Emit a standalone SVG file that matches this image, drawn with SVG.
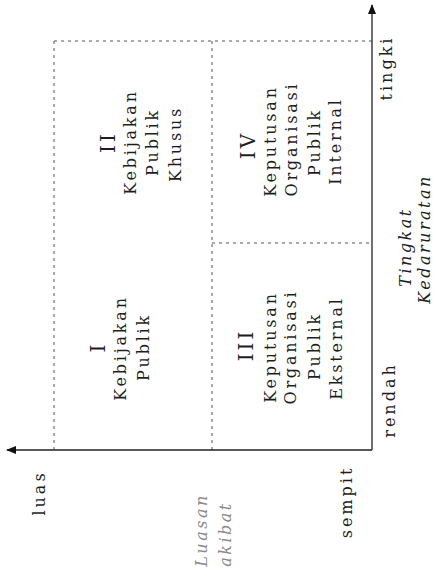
<svg xmlns="http://www.w3.org/2000/svg" width="436" height="578" viewBox="0 0 436 578">
<defs>
<style>
text{font-family:"DejaVu Serif","Liberation Serif",serif;fill:#1e1e1e;text-anchor:middle;}
.t{font-size:16px;letter-spacing:2.8px;}
.n{font-size:20px;letter-spacing:3px;}
.ax{font-size:16px;letter-spacing:3px;}
.it{font-size:16px;font-style:italic;letter-spacing:2.5px;}
.faded{fill:#8a8a8a;}
.dot{fill:none;stroke:#555;stroke-width:1;stroke-dasharray:3 4;}
.axis{fill:none;stroke:#222;stroke-width:1.3;}
</style>
<marker id="arr" markerWidth="10" markerHeight="10" refX="9" refY="5" orient="auto" markerUnits="userSpaceOnUse">
<path d="M0,1 L10,5 L0,9 Z" fill="#111"/>
</marker>
</defs>
<rect width="436" height="578" fill="#fff"/>
<g id="connectors">
<path class="dot" d="M54,41 H372"/>
<path class="dot" d="M54,41 V450"/>
<path class="dot" d="M212,41 V450"/>
<path class="dot" d="M212,243 H372"/>
<path class="axis" d="M372,450 V5" marker-end="url(#arr)"/>
<path class="axis" d="M372,450 H7" marker-end="url(#arr)"/>
</g>
<g id="box-II">
<text class="n" transform="translate(115,142) rotate(-90)">II</text>
<text class="t" transform="translate(136,142) rotate(-90)">Kebijakan</text>
<text class="t" transform="translate(158,142) rotate(-90)">Publik</text>
<text class="t" transform="translate(181,144) rotate(-90)" letter-spacing="4">Khusus</text>
</g>
<g id="box-IV">
<text class="n" transform="translate(255,145) rotate(-90)">IV</text>
<text class="t" transform="translate(276,141) rotate(-90)">Keputusan</text>
<text class="t" transform="translate(297,139) rotate(-90)">Organisasi</text>
<text class="t" transform="translate(320,142) rotate(-90)">Publik</text>
<text class="t" transform="translate(341,141) rotate(-90)">Internal</text>
</g>
<g id="box-I">
<text class="n" transform="translate(105,347) rotate(-90)">I</text>
<text class="t" transform="translate(126,348) rotate(-90)">Kebijakan</text>
<text class="t" transform="translate(149,347) rotate(-90)">Publik</text>
</g>
<g id="box-III">
<text class="n" transform="translate(253,345) rotate(-90)">III</text>
<text class="t" transform="translate(276,347) rotate(-90)">Keputusan</text>
<text class="t" transform="translate(296,347) rotate(-90)">Organisasi</text>
<text class="t" transform="translate(320,346) rotate(-90)">Publik</text>
<text class="t" transform="translate(342,348) rotate(-90)">Eksternal</text>
</g>
<g id="axis-labels">
<text class="ax" transform="translate(392,68) rotate(-90)">tingki</text>
<text class="ax" transform="translate(395,400) rotate(-90)">rendah</text>
<text class="it" transform="translate(411,247) rotate(-90)">Tingkat</text>
<text class="it" transform="translate(430,239) rotate(-90)">Kedaruratan</text>
<text class="ax" transform="translate(45,493) rotate(-90)">luas</text>
<text class="ax" transform="translate(352,502) rotate(-90)">sempit</text>
<text class="it faded" transform="translate(207,530) rotate(-90)">Luasan</text>
<text class="it faded" transform="translate(231,534) rotate(-90)">akibat</text>
</g>
</svg>
